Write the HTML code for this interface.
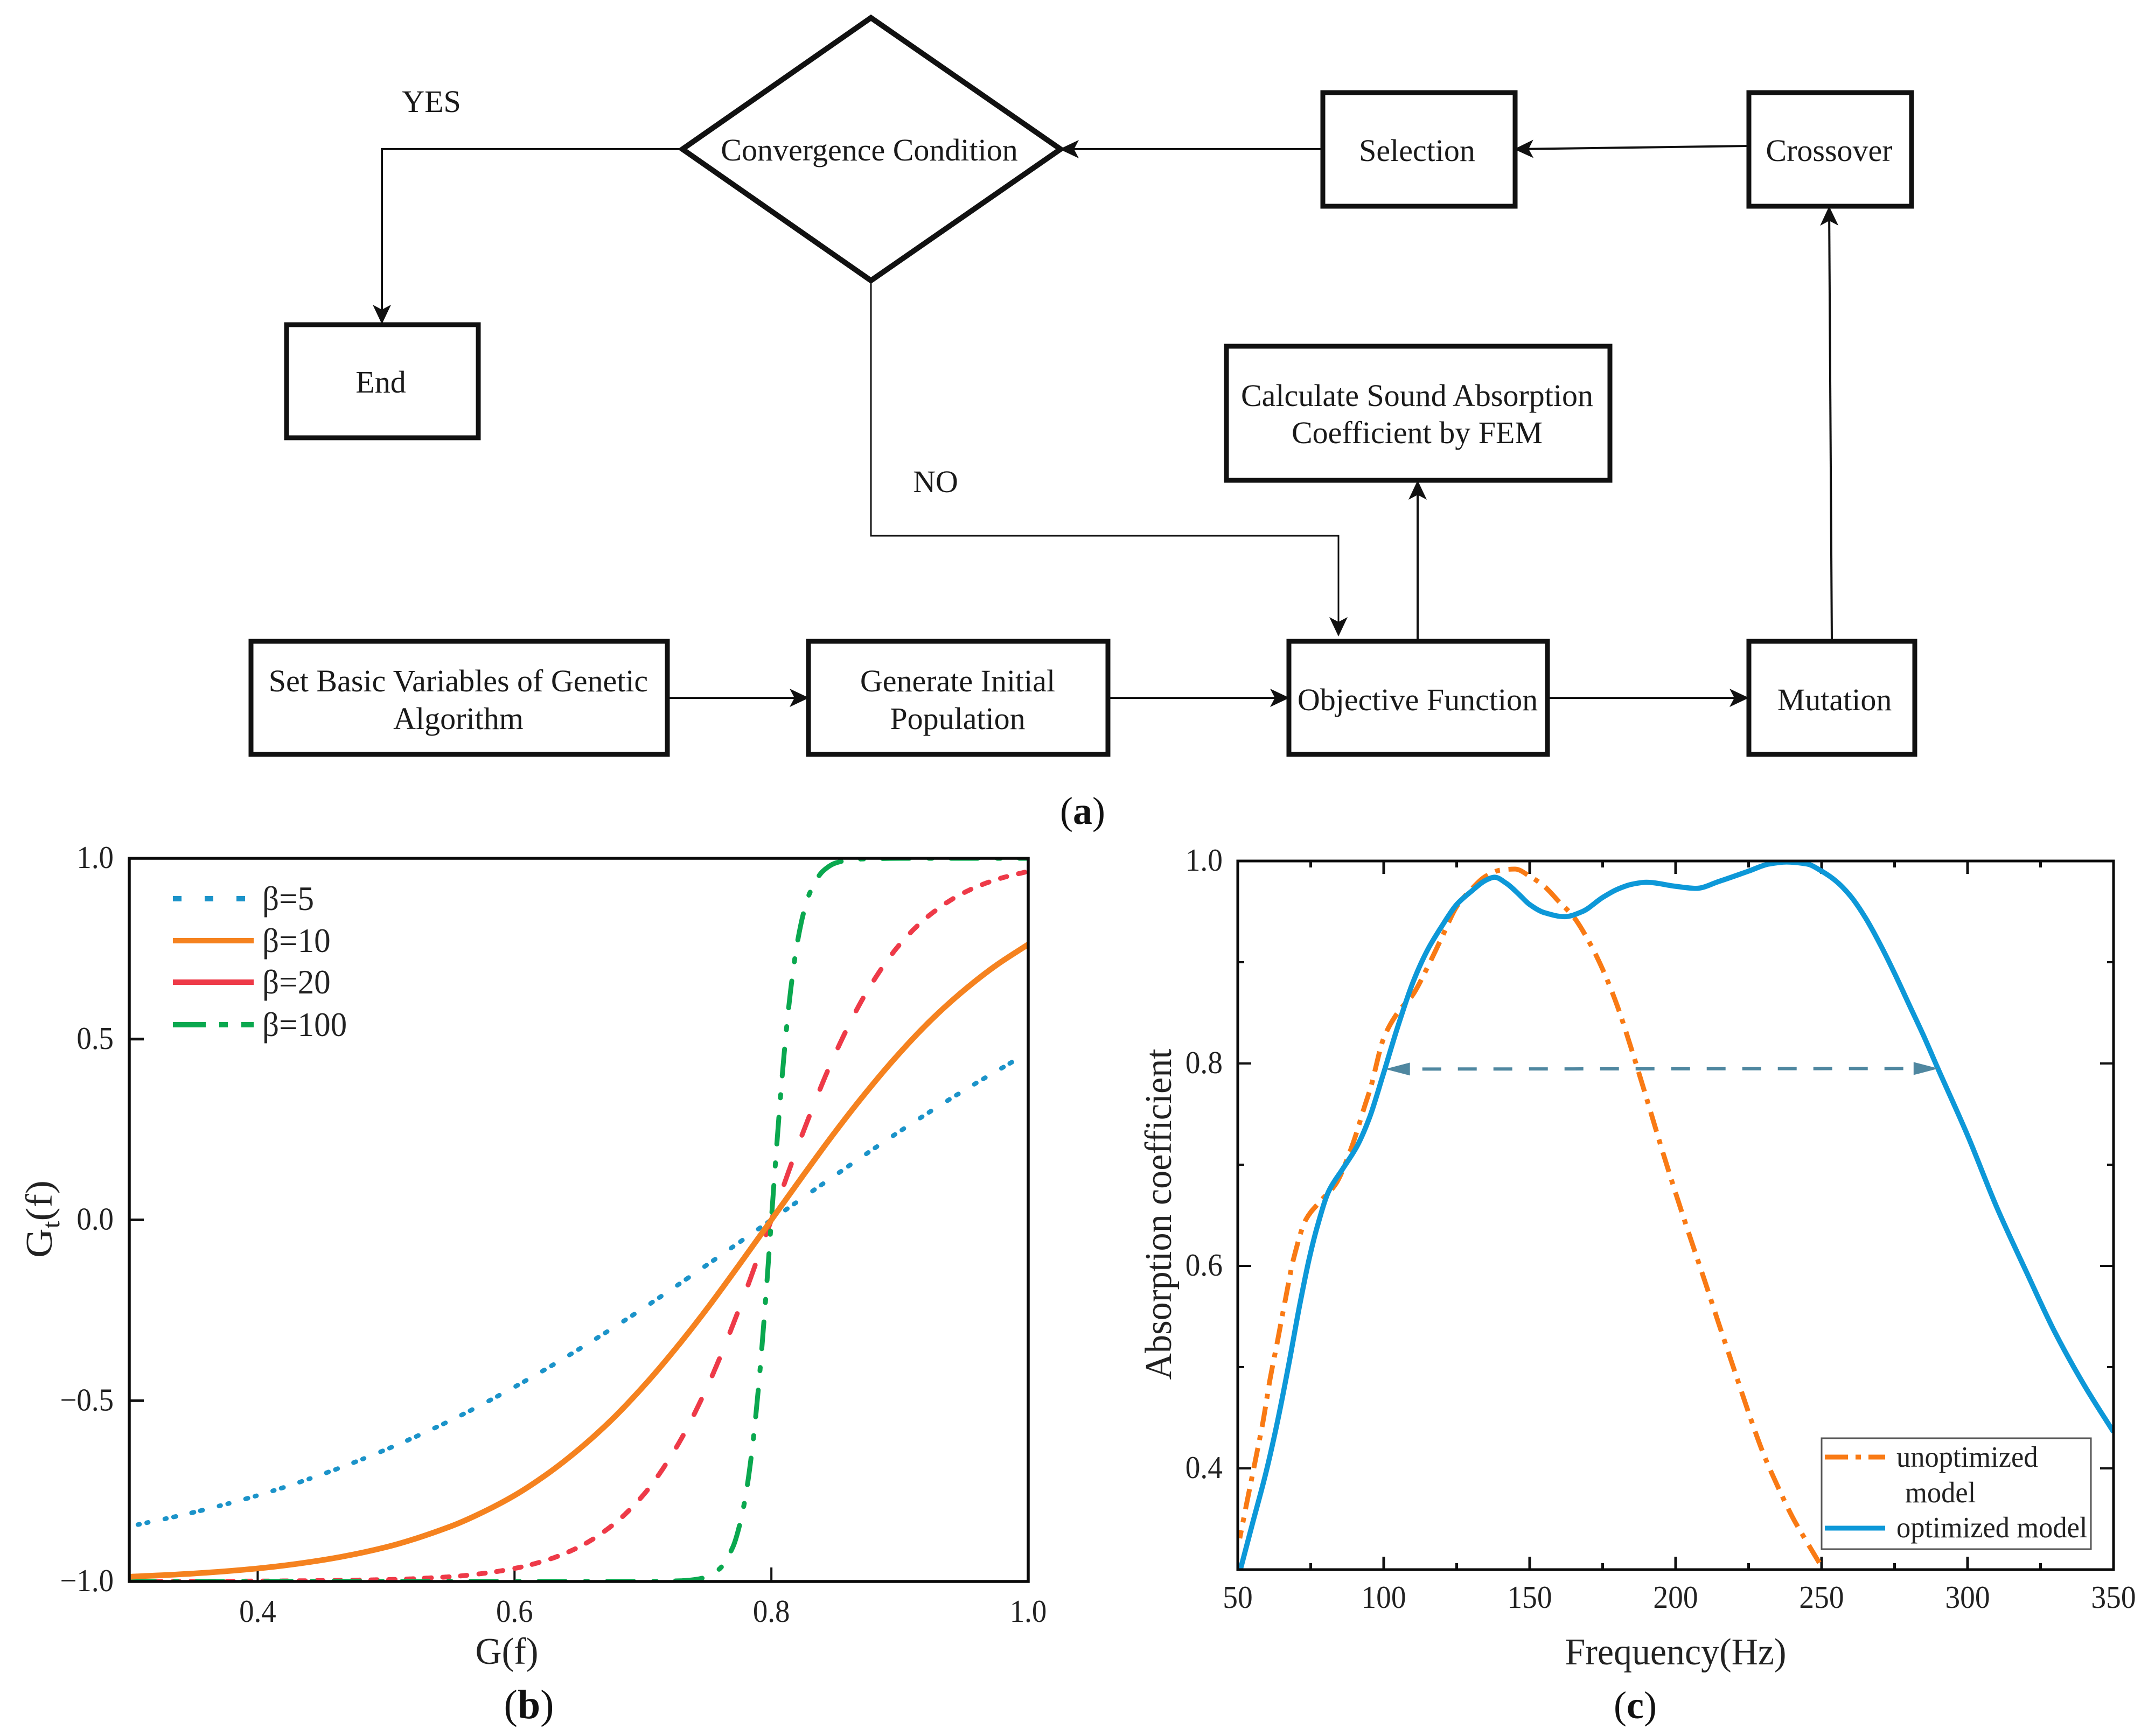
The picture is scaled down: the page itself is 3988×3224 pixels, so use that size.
<!DOCTYPE html>
<html lang="en">
<head>
<meta charset="utf-8">
<title>Genetic algorithm flowchart and charts</title>
<style>
html,body{margin:0;padding:0;background:#fff}
svg{display:block}
text{font-family:"Liberation Serif",serif;fill:#1a1a1a}
.box{fill:#fff;stroke:#111;stroke-width:9}
.conn{fill:none;stroke:#111;stroke-width:4}
.fl{font-size:58px;text-anchor:middle}
.tick{font-size:59px;fill:#222}
.title{font-size:70px;fill:#222}
.leg{font-size:64px;fill:#222}
.panel{font-size:72px;text-anchor:middle;fill:#111}
</style>
</head>
<body>
<svg id="fig" xmlns="http://www.w3.org/2000/svg" width="3988" height="3224" viewBox="0 0 3988 3224">
<defs>
<marker id="ah" markerUnits="userSpaceOnUse" markerWidth="40" markerHeight="40" refX="34" refY="20" orient="auto">
<path d="M0 3 L36 20 L0 37 L9 20 Z" fill="#111"/>
</marker>
<clipPath id="clip-b"><rect x="240" y="1594" width="1669" height="1343"/></clipPath>
<clipPath id="clip-c"><rect x="2298" y="1599" width="1626" height="1316"/></clipPath>
</defs>
<rect width="3988" height="3224" fill="#fff"/>

<g id="flowchart">
<path class="conn" d="M1267 277 H709 V600" marker-end="url(#ah)"/>
<path class="conn" style="stroke-width:3" d="M1617 521 V995 H2485 V1180" marker-end="url(#ah)"/>
<path class="conn" d="M2454 277 H1969" marker-end="url(#ah)"/>
<path class="conn" d="M3245 271 L2813 277" marker-end="url(#ah)"/>
<path class="conn" d="M3401 1190 L3396 385" marker-end="url(#ah)"/>
<path class="conn" d="M2632 1190 V894" marker-end="url(#ah)"/>
<path class="conn" d="M1239 1296 H1500" marker-end="url(#ah)"/>
<path class="conn" d="M2058 1296 H2392" marker-end="url(#ah)"/>
<path class="conn" d="M2873 1296 H3245" marker-end="url(#ah)"/>

<polygon class="box" points="1617,33 1969,277 1617,521 1267,277" style="fill:none;stroke-width:10"/>
<rect class="box" x="532" y="603" width="356" height="210"/>
<rect class="box" x="2456" y="172" width="357" height="211"/>
<rect class="box" x="3247" y="172" width="302" height="211"/>
<rect class="box" x="2277" y="643" width="712" height="249"/>
<rect class="box" x="466" y="1191" width="773" height="210"/>
<rect class="box" x="1501" y="1191" width="556" height="210"/>
<rect class="box" x="2393" y="1191" width="480" height="210"/>
<rect class="box" x="3247" y="1191" width="308" height="210"/>

<text class="fl" x="801" y="208">YES</text>
<text class="fl" x="1737" y="914">NO</text>
<text class="fl" x="1614" y="298">Convergence Condition</text>
<text class="fl" x="707" y="729">End</text>
<text class="fl" x="2631" y="299">Selection</text>
<text class="fl" x="3396" y="299">Crossover</text>
<text class="fl" x="2631" y="754">Calculate Sound Absorption</text>
<text class="fl" x="2631" y="823">Coefficient by FEM</text>
<text class="fl" x="851" y="1284">Set Basic Variables of Genetic</text>
<text class="fl" x="851" y="1354">Algorithm</text>
<text class="fl" x="1778" y="1284">Generate Initial</text>
<text class="fl" x="1778" y="1354">Population</text>
<text class="fl" x="2632" y="1319">Objective Function</text>
<text class="fl" x="3406" y="1319">Mutation</text>
<text class="panel" x="2010" y="1530">(<tspan font-weight="bold">a</tspan>)</text>
</g>

<g id="chart-b"></g>
<g id="chart-c"></g>

<text class="panel" style="font-size:76px" x="982" y="3191">(<tspan font-weight="bold">b</tspan>)</text>
<text class="panel" x="3036" y="3191">(<tspan font-weight="bold">c</tspan>)</text>
</svg>

<script>
/* ---------- chart b data ---------- */
const bXTicks = [0.4, 0.6, 0.8, 1.0];
const bYTicks = [-1.0, -0.5, 0.0, 0.5, 1.0];
const bBeta5X = [0.30,0.35,0.40,0.45,0.50,0.55,0.60,0.65,0.70,0.75,0.80,0.85,0.90,0.95,0.99];
const bBeta5Y = [-0.848,-0.809,-0.762,-0.704,-0.635,-0.555,-0.462,-0.358,-0.245,-0.124,0,0.124,0.245,0.358,0.442];
const bBeta10X = [0.30,0.35,0.40,0.45,0.50,0.55,0.575,0.60,0.625,0.65,0.675,0.70,0.725,0.75,0.775,0.80,0.825,0.85,0.875,0.90,0.925,0.95,0.975,1.00];
const bBeta10Y = [-0.987,-0.978,-0.964,-0.941,-0.905,-0.848,-0.809,-0.762,-0.704,-0.635,-0.555,-0.462,-0.358,-0.245,-0.124,0,0.124,0.245,0.358,0.462,0.555,0.635,0.704,0.762];
const bBeta20X = [0.30,0.40,0.50,0.55,0.575,0.60,0.625,0.65,0.675,0.70,0.725,0.75,0.775,0.80,0.825,0.85,0.875,0.90,0.925,0.95,0.975,1.00];
const bBeta20Y = [-1,-0.999,-0.995,-0.987,-0.978,-0.964,-0.941,-0.905,-0.848,-0.762,-0.635,-0.462,-0.245,0,0.245,0.462,0.635,0.762,0.848,0.905,0.941,0.964];
const bBeta100X = [0.30,0.70,0.73,0.74,0.75,0.76,0.77,0.775,0.78,0.785,0.79,0.795,0.80,0.805,0.81,0.815,0.82,0.825,0.83,0.84,0.85,0.86,0.87,0.90,1.00];
const bBeta100Y = [-1,-1,-0.998,-0.995,-0.987,-0.964,-0.905,-0.848,-0.762,-0.635,-0.462,-0.245,0,0.245,0.462,0.635,0.762,0.848,0.905,0.964,0.987,0.995,0.998,1,1];
const bLegendLabels = ['\u03B2=5','\u03B2=10','\u03B2=20','\u03B2=100'];

/* ---------- chart c data ---------- */
const cXTicks = [50,100,150,200,250,300,350];
const cXMinor = [75,125,175,225,275,325];
const cYTicks = [0.4,0.6,0.8,1.0];
const cYMinor = [0.3,0.5,0.7,0.9];
const cOptX = [50.9,55,59.6,63.3,67.5,71.2,74.4,77.5,81.2,86,91,95.2,99.6,105,110,115,120,125,130,135,138,142,146,150,155,162,168,175,180,185,190,200,207,215,225,232,238,245,250,255,260,265,270,275,280,285,290,300,310,320,330,340,350];
const cOptY = [0.30,0.345,0.395,0.442,0.503,0.561,0.606,0.6415,0.674,0.696,0.719,0.747,0.787,0.838,0.880,0.912,0.936,0.957,0.970,0.981,0.984,0.978,0.968,0.957,0.949,0.945,0.950,0.964,0.972,0.977,0.979,0.975,0.973,0.980,0.990,0.997,0.999,0.997,0.990,0.980,0.965,0.944,0.918,0.889,0.858,0.827,0.794,0.729,0.658,0.595,0.534,0.482,0.436];
const cUnoptX = [50.7,53.1,55.9,58.7,61,63.7,66.4,69.2,73.4,78,83.6,89.1,93.4,95.6,100,105,110,115,120,125,130,135,140,145,150,155,160,165,170,175,180,185,190,195,200,205,210,215,220,225,230,235,240,245,250];
const cUnoptY = [0.331,0.366,0.406,0.447,0.487,0.527,0.568,0.608,0.646,0.663,0.681,0.718,0.757,0.777,0.825,0.851,0.868,0.895,0.925,0.955,0.972,0.985,0.991,0.992,0.985,0.975,0.960,0.945,0.922,0.893,0.857,0.813,0.766,0.718,0.672,0.628,0.585,0.541,0.498,0.455,0.415,0.382,0.352,0.327,0.303];
const cLegendLabels = ['unoptimized','model','optimized model'];
const cSpanStart = 100.5;
const cSpanEnd = 290;
const cSpanLevel = 0.795;

/* ---------- helpers ---------- */
const NS = 'http://www.w3.org/2000/svg';
function make(tag, parent, attrs, txt) {
  const el = document.createElementNS(NS, tag);
  for (const k in attrs) el.setAttribute(k, attrs[k]);
  if (txt !== undefined) el.textContent = txt;
  parent.appendChild(el);
  return el;
}
function condense(el, f) {
  el.setAttribute('textLength', (el.getComputedTextLength() * f).toFixed(1));
  el.setAttribute('lengthAdjust', 'spacingAndGlyphs');
}
function smoothPath(px, py) {
  const n = px.length, dx = [], m = [], t = [];
  for (let i = 0; i < n - 1; i++) { dx[i] = px[i + 1] - px[i]; m[i] = (py[i + 1] - py[i]) / dx[i]; }
  t[0] = m[0]; t[n - 1] = m[n - 2];
  for (let i = 1; i < n - 1; i++) t[i] = m[i - 1] * m[i] <= 0 ? 0 : 2 * m[i - 1] * m[i] / (m[i - 1] + m[i]);
  let d = 'M' + px[0].toFixed(1) + ' ' + py[0].toFixed(1);
  for (let i = 0; i < n - 1; i++) {
    const h = dx[i] / 3;
    d += ' C' + (px[i] + h).toFixed(1) + ' ' + (py[i] + t[i] * h).toFixed(1) + ' ' +
      (px[i + 1] - h).toFixed(1) + ' ' + (py[i + 1] - t[i + 1] * h).toFixed(1) + ' ' +
      px[i + 1].toFixed(1) + ' ' + py[i + 1].toFixed(1);
  }
  return d;
}
/* dash a rendered curve by horizontal distance: the reference's dashes repeat at a constant x step */
function dashByX(path, origin, pattern) {
  const total = path.getTotalLength();
  const period = pattern.reduce((a, b) => a + b, 0);
  let out = '', pen = false;
  for (let s = 0; s <= total; s += 1.5) {
    const p = path.getPointAtLength(s);
    let u = (((p.x - origin) % period) + period) % period, on = false, acc = 0;
    for (let i = 0; i < pattern.length; i++) {
      acc += pattern[i];
      if (u < acc) { on = i % 2 === 0; break; }
    }
    if (on) { out += (pen ? 'L' : 'M') + p.x.toFixed(1) + ' ' + p.y.toFixed(1) + ' '; }
    pen = on;
  }
  path.setAttribute('d', out);
}

/* ---------- chart b ---------- */
(function () {
  const g = document.getElementById('chart-b');
  const L = 240, R = 1909, T = 1594, B = 2937;
  const xS = v => L + (v - 0.3) / 0.7 * (R - L);
  const yS = v => B - (v + 1) / 2 * (B - T);

  bXTicks.forEach(v => {
    const tk = make('line', g, { x1: xS(v), x2: xS(v), y1: B, y2: B - 26, stroke: '#111', 'stroke-width': 4 });
    
    
    const lb = make('text', g, { class: 'tick', x: xS(v), y: 3012, 'text-anchor': 'middle' }, v.toFixed(1));
    
    
    condense(lb, 0.93);
  });
  bYTicks.forEach(v => {
    const tk = make('line', g, { x1: L, x2: L + 27, y1: yS(v), y2: yS(v), stroke: '#111', 'stroke-width': 5 });
    
    
    const lb = make('text', g, { class: 'tick', x: 211, y: yS(v) + 18, 'text-anchor': 'end' }, (v < 0 ? '\u2212' : '') + Math.abs(v).toFixed(1));
    
    
    condense(lb, 0.93);
  });

  const s5 = make('path', g, { d: smoothPath(bBeta5X.map(xS), bBeta5Y.map(yS)), fill: 'none', stroke: '#1b93c9', 'stroke-width': 8.5, 'stroke-linecap': 'round', 'clip-path': 'url(#clip-b)' });
  
  
  dashByX(s5, L + 15, [5, 11.5, 5, 28.6]);

  const s20 = make('path', g, { d: smoothPath(bBeta20X.map(xS), bBeta20Y.map(yS)), fill: 'none', stroke: '#ee3a48', 'stroke-width': 9, 'stroke-linecap': 'round', 'clip-path': 'url(#clip-b)' });
  
  
  dashByX(s20, L + 13, [14, 19.4]);

  const s100 = make('path', g, { d: smoothPath(bBeta100X.map(xS), bBeta100Y.map(yS)), fill: 'none', stroke: '#0aa84f', 'stroke-width': 9, 'stroke-linecap': 'round', 'stroke-dasharray': '50 36 6 35', 'clip-path': 'url(#clip-b)' });
  
  
  (function alignDash() {
    const total = s100.getTotalLength();
    for (let s = 0; s < total; s += 2) {
      if (s100.getPointAtLength(s).x >= 1638) {
        s100.setAttribute('stroke-dashoffset', (127 - (s % 127)).toFixed(1));
        break;
      }
    }
  })();

  const s10 = make('path', g, { d: smoothPath(bBeta10X.map(xS), bBeta10Y.map(yS)), fill: 'none', stroke: '#f5821f', 'stroke-width': 10.5, 'clip-path': 'url(#clip-b)' });
  
  

  const frame = make('rect', g, { x: L, y: T, width: R - L, height: B - T, fill: 'none', stroke: '#0a0a0a', 'stroke-width': 5.5 });
  
  

  const legColors = ['#1b93c9', '#f5821f', '#ee3a48', '#0aa84f'];
  const legDash = ['16 43', 'none', 'none', '61 25 16 25'];
  const legEnd = [456, 471, 471, 471];
  const legY = [1669, 1747, 1824, 1903];
  bLegendLabels.forEach((t, i) => {
    const ln = make('line', g, { x1: 321, x2: legEnd[i], y1: legY[i], y2: legY[i], stroke: legColors[i], 'stroke-width': 10, 'stroke-dasharray': legDash[i] });
    
    
    const tx = make('text', g, { class: 'leg', x: 487, y: legY[i] + 21 }, t);
    
    
    condense(tx, 0.955);
  });

  const xt = make('text', g, { class: 'title', x: 941, y: 3090, 'text-anchor': 'middle' }, 'G(f)');
  
  
  condense(xt, 0.97);
  const yt = make('text', g, { class: 'title', x: 0, y: 0, 'text-anchor': 'middle', transform: 'translate(96 2264) rotate(-90) scale(1.08,1)' });
  
  
  make('tspan', yt, {}, 'G');
  make('tspan', yt, { dy: 14, 'font-size': 46 }, 't');
  make('tspan', yt, { dy: -14 }, '(f)');
})();

/* ---------- chart c ---------- */
(function () {
  const g = document.getElementById('chart-c');
  const L = 2298, R = 3924, T = 1599, B = 2915;
  const xS = v => L + (v - 50) / 300 * (R - L);
  const yS = v => T + (1 - v) / 0.7 * (B - T);

  function vTicks(vals, len, name) {
    vals.forEach(v => {
      const a = make('line', g, { x1: xS(v), x2: xS(v), y1: B, y2: B - len, stroke: '#111', 'stroke-width': 5 });
      
      
      const b = make('line', g, { x1: xS(v), x2: xS(v), y1: T, y2: T + len, stroke: '#111', 'stroke-width': 5 });
      
      
    });
  }
  function hTicks(vals, len, name) {
    vals.forEach(v => {
      const a = make('line', g, { x1: L, x2: L + len, y1: yS(v), y2: yS(v), stroke: '#111', 'stroke-width': 4 });
      
      
      const b = make('line', g, { x1: R, x2: R - len, y1: yS(v), y2: yS(v), stroke: '#111', 'stroke-width': 4 });
      
      
    });
  }
  vTicks(cXTicks, 24, 'x-major-tick');
  vTicks(cXMinor, 12, 'x-minor-tick');
  hTicks(cYTicks, 25, 'y-major-tick');
  hTicks(cYMinor, 12, 'y-minor-tick');

  cXTicks.forEach(v => {
    const lb = make('text', g, { class: 'tick', x: xS(v), y: 2986, 'text-anchor': 'middle' }, String(v));
    
    
    condense(lb, 0.94);
  });
  cYTicks.forEach(v => {
    const lb = make('text', g, { class: 'tick', x: 2270, y: yS(v) + 18, 'text-anchor': 'end' }, v.toFixed(1));
    
    
    condense(lb, 0.94);
  });

  const un = make('path', g, { d: smoothPath(cUnoptX.map(xS), cUnoptY.map(yS)), fill: 'none', stroke: '#f97a14', 'stroke-width': 9, 'stroke-dasharray': '38 15 9 16', 'stroke-dashoffset': 23, 'clip-path': 'url(#clip-c)' });
  
  
  const op = make('path', g, { d: smoothPath(cOptX.map(xS), cOptY.map(yS)), fill: 'none', stroke: '#0d98d8', 'stroke-width': 9.5, 'clip-path': 'url(#clip-c)' });
  
  

  const frame = make('rect', g, { x: L, y: T, width: R - L, height: B - T, fill: 'none', stroke: '#0a0a0a', 'stroke-width': 5 });
  
  

  const x0 = xS(cSpanStart), x1 = xS(cSpanEnd), y0 = yS(cSpanLevel);
  const sp = make('line', g, { x1: x0 + 46, x2: x1 - 46, y1: y0 + 1, y2: y0, stroke: '#4f87a0', 'stroke-width': 6, 'stroke-dasharray': '35 31', 'stroke-dashoffset': 43 });
  
  
  const ha = make('polygon', g, { points: [x0, y0 + 1, x0 + 46, y0 - 11, x0 + 46, y0 + 13].join(' '), fill: '#4f87a0' });
  
  
  const hb = make('polygon', g, { points: [x1, y0, x1 - 46, y0 - 12, x1 - 46, y0 + 12].join(' '), fill: '#4f87a0' });
  
  

  const box = make('rect', g, { x: 3382, y: 2671, width: 500, height: 206, fill: '#fff', stroke: '#555', 'stroke-width': 3 });
  
  
  const l1 = make('line', g, { x1: 3388, x2: 3500, y1: 2706, y2: 2706, stroke: '#f97a14', 'stroke-width': 9, 'stroke-dasharray': '43 14 10 14' });
  
  
  const l2 = make('line', g, { x1: 3388, x2: 3500, y1: 2838, y2: 2838, stroke: '#0d98d8', 'stroke-width': 9 });
  
  
  const legX = [3521, 3537, 3521];
  const legB = [2724, 2790, 2855];
  cLegendLabels.forEach((t, i) => {
    const tx = make('text', g, { class: 'tick', x: legX[i], y: legB[i], style: 'font-size:55px' }, t);
    
    
    condense(tx, 0.955);
  });

  const xt = make('text', g, { class: 'title', x: 3111, y: 3091, 'text-anchor': 'middle' }, 'Frequency(Hz)');
  
  
  condense(xt, 0.97);
  const yt = make('text', g, { class: 'title', x: 0, y: 0, 'text-anchor': 'middle', transform: 'translate(2174 2255) rotate(-90)' }, 'Absorption coefficient');
  
  
  condense(yt, 0.975);
})();
</script>
</body>
</html>
